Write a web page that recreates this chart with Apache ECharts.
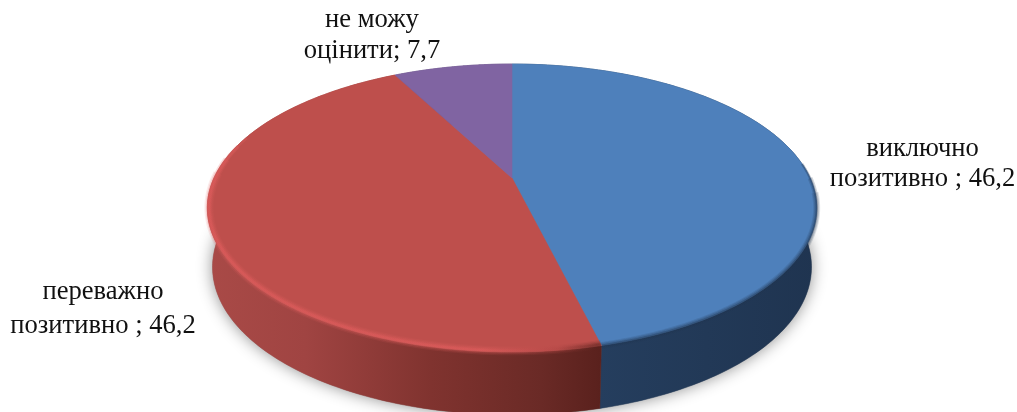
<!DOCTYPE html>
<html><head><meta charset="utf-8">
<style>html,body{margin:0;padding:0;background:#fff}#c{width:1017px;height:412px}</style>
<script src="https://cdn.jsdelivr.net/npm/echarts@6/dist/echarts.min.js"></script>
</head><body><div id="c"></div>
<script>
const categories = ['виключно\nпозитивно ; 46,2', 'переважно\nпозитивно ; 46,2', 'не можу\nоцінити; 7,7'];
const values = [46.2, 46.2, 7.7];

const total = values.reduce((a, b) => a + b, 0);
const GEO = {cx: 512, cy: 178, a: 298, b: 137.7, k: 0.208, depth: 58, depthNear: 5, shrink: 0.983};
const FACE = ['#4e80bb', '#be4f4c', '#8064a2'];
const LABEL = [{x: 922.5, y: 164.5, lh: 30}, {x: 103, y: 309, lh: 34}, {x: 372, y: 36, lh: 31}];
const WALL = [
  [[0, '#1f3450'], [1, '#253e5e']],
  [[0, '#a94a47'], [0.25, '#a04442'], [0.57, '#80332f'], [0.85, '#6a2a26'], [1, '#5a211d']],
  [[0, '#5a4672'], [1, '#5a4672']]
];
const WALL_X = [[817, 597], [207, 600], [390, 512]];
const DEG = Math.PI / 180;

function topPt(t, m) { // t: angle clockwise from 12 o'clock; m: radial factor
  m = m === undefined ? 1 : m;
  const X = Math.sin(t) * m, Y = -Math.cos(t) * m;
  const s = 1 / (1 - GEO.k * Y);
  return [GEO.cx + GEO.a * X * s, GEO.cy + GEO.b * Y * s];
}
function botPt(t) {
  const p = topPt(t);
  const Y = -Math.cos(t);
  return [GEO.cx + (p[0] - GEO.cx) * GEO.shrink, p[1] + GEO.depth + GEO.depthNear * Math.max(Y, 0)];
}
function sliceRange(i) {
  let s = 0;
  for (let j = 0; j < i; j++) s += values[j];
  return [s / total * Math.PI * 2, (s + values[i]) / total * Math.PI * 2];
}
function arc(t0, t1, f) {
  const pts = [], n = 180;
  for (let i = 0; i <= n; i++) pts.push(f(t0 + (t1 - t0) * i / n));
  return pts;
}
const grad = (x0, x1, stops) => ({type: 'linear', x: x0, y: 0, x2: x1, y2: 0, global: true,
  colorStops: stops.map(s => ({offset: s[0], color: s[1]}))});

function renderShadow(params, api) {
  if (params.dataIndex !== 0) return null;
  const pts = arc(0, Math.PI * 2, botPt);
  return {type: 'polygon', shape: {points: pts},
    style: {fill: '#888', shadowBlur: 16, shadowColor: 'rgba(0,0,0,0.45)', shadowOffsetY: 0}};
}
function renderWall(params, api) {
  const i = params.dataIndex, r = sliceRange(i);
  const pts = arc(r[0], r[1], topPt).concat(arc(r[1], r[0], botPt));
  const g = grad(WALL_X[i][0], WALL_X[i][1], WALL[i]);
  return {type: 'polygon', shape: {points: pts}, style: {fill: g, stroke: g, lineWidth: 0.5}};
}
function renderFace(params, api) {
  const i = params.dataIndex, r = sliceRange(i);
  const pts = [[GEO.cx, GEO.cy]].concat(arc(r[0], r[1], topPt));
  const kids = [{type: 'polygon', shape: {points: pts},
    style: {fill: FACE[i], stroke: FACE[i], lineWidth: 0.6}}];
  if (i === 1) {
    const g = a => ({type: 'linear', x: 597, y: 0, x2: 207, y2: 0, global: true, colorStops: [
      {offset: 0, color: 'rgba(90,35,30,' + a * 0.9 + ')'},
      {offset: 0.1, color: 'rgba(180,72,70,' + a + ')'},
      {offset: 0.3, color: 'rgba(226,94,94,' + a + ')'},
      {offset: 1, color: 'rgba(226,94,94,' + a + ')'}]});
    [[9, 0.12, 272], [6.5, 0.2, 278], [4, 0.3, 284], [2, 0.3, 288]].forEach(w => {
      const rim = arc(r[0], w[2] * DEG, t => topPt(t, 0.995));
      kids.push({type: 'polyline', shape: {points: rim},
        style: {fill: 'none', stroke: g(w[1]), lineWidth: w[0]}});
    });
  }
  if (i === 0) {
    const g = a => grad(597, 817, [[0, 'rgba(31,52,80,' + a + ')'], [1, 'rgba(31,52,80,' + a + ')']]);
    [[7, 0.14, 96], [5, 0.2, 90], [2.5, 0.35, 84]].forEach(w => {
      const rim = arc(w[2] * DEG, r[1], t => topPt(t, 1));
      kids.push({type: 'polyline', shape: {points: rim},
        style: {fill: 'none', stroke: g(w[1]), lineWidth: w[0]}});
    });
  }
  kids.push({type: 'text', style: {x: LABEL[i].x, y: LABEL[i].y, text: categories[i], align: 'center',
    verticalAlign: 'middle', fill: '#111', font: '26.6px "Liberation Serif"', lineHeight: LABEL[i].lh}});
  return {type: 'group', children: kids};
}
const chart = echarts.init(document.getElementById('c'), null, {renderer: 'canvas'});
const rows = values.map(v => [v]);
chart.setOption({
  animation: false,
  backgroundColor: '#fff',
  series: [
    {type: 'custom', coordinateSystem: 'none', silent: true, z: 1, data: rows, renderItem: renderShadow},
    {type: 'custom', coordinateSystem: 'none', silent: true, z: 2, data: rows, renderItem: renderWall},
    {type: 'custom', coordinateSystem: 'none', silent: true, z: 3, data: rows, renderItem: renderFace}
  ]
});
</script></body></html>
